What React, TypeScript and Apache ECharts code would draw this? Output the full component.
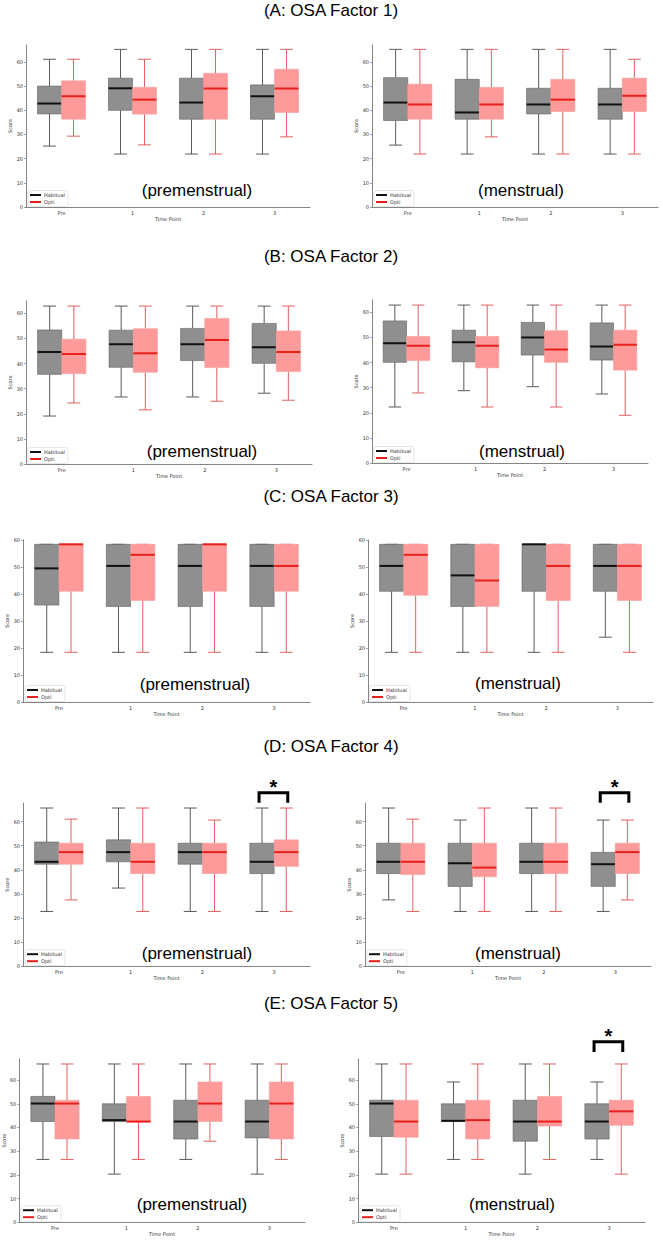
import React, { useEffect, useRef } from 'react';
import * as echarts from 'echarts';

const timePoints = ['Pre', '1', '2', '3'];
const yTickValues = [0, 10, 20, 30, 40, 50, 60];
const seriesNames = ['Habitual', 'Opti'];
const factorTitles = ['(A: OSA Factor 1)', '(B: OSA Factor 2)', '(C: OSA Factor 3)', '(D: OSA Factor 4)', '(E: OSA Factor 5)'];
const phaseLabels = ['(premenstrual)', '(menstrual)'];

// each row: [min, Q1, median, Q3, max] for Pre, 1, 2, 3
const f1PremHabitual = [[25.2, 38.5, 42.8, 50.0, 61.1], [21.9, 40.0, 49.1, 53.3, 65.2], [21.9, 36.3, 43.2, 53.3, 65.2], [21.9, 36.3, 45.8, 50.5, 65.2]];
const f1PremOpti = [[29.3, 36.3, 45.8, 52.2, 61.1], [25.7, 38.4, 44.4, 49.5, 61.1], [21.9, 36.3, 49.0, 55.3, 65.2], [29.0, 39.1, 49.0, 57.0, 65.2]];
const f1MensHabitual = [[25.6, 35.8, 43.2, 53.5, 65.2], [21.9, 36.3, 39.1, 52.8, 65.2], [21.9, 38.5, 42.4, 49.1, 65.2], [21.9, 36.3, 42.4, 49.1, 65.2]];
const f1MensOpti = [[21.9, 36.3, 42.4, 50.8, 65.2], [29.0, 36.3, 42.4, 49.5, 65.2], [21.9, 39.5, 44.4, 52.8, 65.2], [21.9, 39.5, 46.0, 53.3, 61.1]];

const f2PremHabitual = [[19.1, 35.7, 44.6, 53.4, 62.9], [26.7, 38.5, 47.7, 53.3, 62.9], [26.7, 41.2, 47.7, 54.0, 62.9], [28.2, 40.1, 46.5, 56.0, 62.9]];
const f2PremOpti = [[24.3, 36.0, 43.8, 49.7, 62.9], [21.6, 36.5, 44.1, 53.9, 62.9], [25.0, 38.4, 49.4, 58.0, 62.9], [25.4, 36.8, 44.6, 53.0, 62.9]];
const f2MensHabitual = [[22.3, 40.1, 47.7, 56.6, 62.9], [28.8, 40.3, 48.1, 52.9, 62.9], [30.4, 43.0, 50.0, 56.0, 62.9], [27.5, 41.0, 46.4, 55.8, 62.9]];
const f2MensOpti = [[27.9, 40.8, 46.7, 50.4, 62.9], [22.3, 37.9, 46.7, 50.4, 62.9], [22.3, 40.1, 45.2, 52.7, 62.9], [19.0, 37.0, 47.1, 52.9, 62.9]];

const f3PremHabitual = [[18.4, 35.9, 49.5, 58.4, 58.4], [18.4, 35.4, 50.4, 58.4, 58.4], [18.4, 35.4, 50.4, 58.4, 58.4], [18.4, 35.4, 50.4, 58.4, 58.4]];
const f3PremOpti = [[18.4, 41.0, 58.4, 58.4, 58.4], [18.4, 37.6, 54.5, 58.4, 58.4], [18.4, 41.0, 58.4, 58.4, 58.4], [18.4, 41.0, 50.4, 58.4, 58.4]];
const f3MensHabitual = [[18.4, 41.0, 50.4, 58.4, 58.4], [18.4, 35.4, 46.9, 58.4, 58.4], [18.4, 41.0, 58.4, 58.4, 58.4], [24.0, 41.0, 50.4, 58.4, 58.4]];
const f3MensOpti = [[18.4, 39.5, 54.5, 58.4, 58.4], [18.4, 35.4, 45.0, 58.4, 58.4], [18.4, 37.6, 50.4, 58.4, 58.4], [18.4, 37.6, 50.4, 58.4, 58.4]];

const f4PremHabitual = [[22.7, 42.3, 43.3, 51.5, 65.6], [32.4, 43.3, 47.3, 52.4, 65.6], [22.7, 42.3, 47.3, 51.0, 65.6], [22.7, 38.4, 43.3, 51.0, 65.6]];
const f4PremOpti = [[27.5, 42.3, 47.3, 51.0, 61.0], [22.7, 38.4, 43.3, 51.0, 65.6], [22.7, 38.4, 47.3, 51.0, 60.6], [22.7, 41.4, 47.3, 52.4, 65.6]];
const f4MensHabitual = [[27.5, 38.4, 43.3, 51.0, 65.6], [22.7, 33.1, 42.7, 51.0, 60.6], [22.7, 38.4, 43.3, 51.0, 65.6], [22.7, 33.1, 42.3, 47.2, 60.6]];
const f4MensOpti = [[22.7, 38.0, 43.3, 51.0, 61.0], [22.7, 37.1, 40.9, 51.0, 65.6], [22.7, 38.4, 43.3, 51.0, 65.6], [27.5, 38.4, 47.3, 51.0, 60.6]];

const f5PremHabitual = [[26.5, 42.5, 50.1, 53.1, 66.8], [20.3, 42.5, 43.1, 50.0, 66.8], [26.5, 35.1, 42.5, 51.5, 66.8], [20.3, 35.6, 42.5, 51.5, 66.8]];
const f5PremOpti = [[26.5, 35.1, 50.1, 51.5, 66.8], [26.5, 42.3, 42.5, 53.1, 66.8], [34.2, 42.5, 50.1, 59.2, 66.8], [26.5, 35.1, 50.1, 59.2, 66.8]];
const f5MensHabitual = [[20.3, 36.2, 50.1, 51.5, 66.8], [26.5, 42.5, 42.8, 50.0, 59.2], [20.3, 34.2, 42.5, 51.5, 66.8], [26.5, 35.1, 42.5, 50.0, 59.2]];
const f5MensOpti = [[20.3, 35.9, 42.5, 51.5, 66.8], [26.5, 35.1, 43.1, 51.5, 66.8], [26.5, 40.6, 42.5, 53.1, 66.8], [20.3, 40.9, 46.8, 51.5, 66.8]];

// panel order: A prem, A mens, B prem, B mens, ...
const panelData = [
  [f1PremHabitual, f1PremOpti], [f1MensHabitual, f1MensOpti],
  [f2PremHabitual, f2PremOpti], [f2MensHabitual, f2MensOpti],
  [f3PremHabitual, f3PremOpti], [f3MensHabitual, f3MensOpti],
  [f4PremHabitual, f4PremOpti], [f4MensHabitual, f4MensOpti],
  [f5PremHabitual, f5PremOpti], [f5MensHabitual, f5MensOpti],
];
const panelYMax = [67, 67, 65, 65, 60, 60, 67.6, 67.6, 68.9, 68.9];

// significance brackets: [panel, time point index, top value, leg value]
const sigBrackets = [[6, 3, 71.9, 67.8], [7, 3, 71.9, 67.8], [9, 3, 76.2, 71.9]];

// layout (pixels)
const geom = [
  { left: 26, width: 284, top: 45, height: 162 },
  { left: 372, width: 286, top: 45, height: 162 },
  { left: 26, width: 286, top: 300.8, height: 163.2 },
  { left: 372, width: 276, top: 299.8, height: 163.2 },
  { left: 23, width: 287, top: 540, height: 162 },
  { left: 368, width: 285, top: 540, height: 162 },
  { left: 23, width: 287, top: 803.2, height: 163 },
  { left: 365, width: 286, top: 803.2, height: 163 },
  { left: 19, width: 286, top: 1059, height: 163.2 },
  { left: 358, width: 287, top: 1059, height: 163.2 },
];
const titlePos = [10, 256, 496, 746, 1003];
const phasePos = [
  [197, 190], [521, 190], [202, 451], [522, 451], [195, 684],
  [518, 683], [197, 953], [518, 953], [192, 1204], [512, 1204],
];

const W = 663;
const H = 1240;
const SMALL_FONT = 'DejaVu Sans';
const BIG_FONT = 'Liberation Sans';

const styles = [
  { fill: '#8f8f8f', stroke: '#5e5e5e', whisker: '#5a5a5a', median: '#111111' },
  { fill: '#ff9a9a', stroke: '#f2a0a0', whisker: '#e06060', median: '#e8201c' },
];

function makeRender(side: number) {
  const st = styles[side];
  const dir = side === 0 ? -1 : 1;
  return (params: any, api: any) => {
    const cat = api.value(0);
    const vMin = api.value(1);
    const q1 = api.value(2);
    const med = api.value(3);
    const q3 = api.value(4);
    const vMax = api.value(5);
    const band = api.size([1, 0])[0];
    const cx = api.coord([cat, 0])[0] + dir * band * 0.169;
    const half = band * 0.169;
    const cap = band * 0.09;
    const yMin = api.coord([cat, vMin])[1];
    const yQ1 = api.coord([cat, q1])[1];
    const yMed = api.coord([cat, med])[1];
    const yQ3 = api.coord([cat, q3])[1];
    const yMax = api.coord([cat, vMax])[1];
    const wStyle = { stroke: st.whisker, lineWidth: 1 };
    return {
      type: 'group',
      children: [
        { type: 'line', shape: { x1: cx, y1: yQ1, x2: cx, y2: yMin }, style: wStyle },
        { type: 'line', shape: { x1: cx, y1: yQ3, x2: cx, y2: yMax }, style: wStyle },
        { type: 'line', shape: { x1: cx - cap, y1: yMin, x2: cx + cap, y2: yMin }, style: wStyle },
        { type: 'line', shape: { x1: cx - cap, y1: yMax, x2: cx + cap, y2: yMax }, style: wStyle },
        {
          type: 'rect',
          shape: { x: cx - half, y: yQ3, width: half * 2, height: Math.max(yQ1 - yQ3, 0.5) },
          style: { fill: st.fill, stroke: st.stroke, lineWidth: 0.6 },
        },
        { type: 'line', shape: { x1: cx - half, y1: yMed, x2: cx + half, y2: yMed }, style: { stroke: st.median, lineWidth: 2 } },
      ],
    };
  };
}

export default function App() {
  const ref = useRef<HTMLDivElement>(null);
  useEffect(() => {
    if (!ref.current) return;
    const chart = echarts.init(ref.current, undefined, { renderer: 'svg', width: W, height: H });
    const grids: any[] = [];
    const xAxes: any[] = [];
    const yAxes: any[] = [];
    const series: any[] = [];
    const legends: any[] = [];
    geom.forEach((g, i) => {
      grids.push({ left: g.left, top: g.top, width: g.width, height: g.height, containLabel: false });
      xAxes.push({
        type: 'category', gridIndex: i, data: timePoints, boundaryGap: true,
        name: 'Time Point', nameLocation: 'middle', nameGap: 9,
        nameTextStyle: { fontSize: 5, color: '#333', fontFamily: SMALL_FONT },
        axisLine: { lineStyle: { color: '#666', width: 0.8 } },
        axisTick: { alignWithLabel: true, length: 2, lineStyle: { color: '#666', width: 0.6 } },
        axisLabel: { fontSize: 5, color: '#333', margin: 3, fontFamily: SMALL_FONT },
        splitLine: { show: false },
      });
      yAxes.push({
        type: 'value', gridIndex: i, min: 0, max: panelYMax[i],
        name: 'Score', nameLocation: 'middle', nameGap: 12,
        nameTextStyle: { fontSize: 5, color: '#333', fontFamily: SMALL_FONT },
        axisLine: { show: true, lineStyle: { color: '#666', width: 0.8 } },
        axisTick: { show: true, length: 2, customValues: yTickValues, lineStyle: { color: '#666', width: 0.6 } },
        axisLabel: { fontSize: 5, color: '#333', margin: 3, customValues: yTickValues, fontFamily: SMALL_FONT },
        splitLine: { show: false },
      });
      panelData[i].forEach((arr, s) => {
        series.push({
          type: 'custom', name: seriesNames[s], xAxisIndex: i, yAxisIndex: i,
          itemStyle: { color: s === 0 ? '#111111' : '#e8201c' },
          encode: { x: 0, y: [1, 2, 3, 4, 5] },
          clip: false,
          renderItem: makeRender(s),
          data: arr.map((v, k) => [k, ...v]),
        });
      });
      legends.push({
        orient: 'vertical', left: g.left + 2, top: g.top + g.height - 16.5,
        data: seriesNames.map((n) => ({ name: n, icon: 'rect' })),
        itemWidth: 11, itemHeight: 2, itemGap: 2,
        padding: [2, 3, 2, 2],
        borderColor: '#cccccc', borderWidth: 0.5, borderRadius: 2,
        backgroundColor: '#ffffff',
        textStyle: { fontSize: 5, color: '#333', fontFamily: SMALL_FONT, padding: [0, 0, 0, -2] },
        selectedMode: false,
      });
    });

    chart.setOption({
      animation: false,
      backgroundColor: '#ffffff',
      grid: grids,
      xAxis: xAxes,
      yAxis: yAxes,
      legend: legends,
      series,
    });

    const elements: any[] = [];
    factorTitles.forEach((t, i) => {
      elements.push({
        type: 'text', x: 331, y: titlePos[i],
        style: { text: t, fontSize: 17, fontFamily: BIG_FONT, fill: '#000', align: 'center', verticalAlign: 'middle' },
      });
    });
    phasePos.forEach((p, i) => {
      elements.push({
        type: 'text', x: p[0], y: p[1],
        style: { text: phaseLabels[i % 2], fontSize: 17, fontFamily: BIG_FONT, fill: '#000', align: 'center', verticalAlign: 'middle' },
      });
    });
    sigBrackets.forEach(([panel, cat, topV, legV]) => {
      const finder = { xAxisIndex: panel, yAxisIndex: panel };
      const c0 = chart.convertToPixel(finder, [0, topV]) as number[];
      const c1 = chart.convertToPixel(finder, [1, topV]) as number[];
      const band = c1[0] - c0[0];
      const top = chart.convertToPixel(finder, [cat, topV]) as number[];
      const leg = chart.convertToPixel(finder, [cat, legV]) as number[];
      const x1 = top[0] - band * 0.21;
      const x2 = top[0] + band * 0.19;
      elements.push({
        type: 'polyline',
        shape: { points: [[x1, leg[1]], [x1, top[1]], [x2, top[1]], [x2, leg[1]]] },
        style: { stroke: '#000', lineWidth: 3, fill: null, lineJoin: 'miter' },
      });
      elements.push({
        type: 'text', x: (x1 + x2) / 2, y: top[1] - 6,
        style: { text: '*', fontSize: 20, fontWeight: 'bold', fontFamily: BIG_FONT, fill: '#000', align: 'center', verticalAlign: 'middle' },
      });
    });
    chart.setOption({ graphic: { elements } });

    return () => chart.dispose();
  }, []);
  return <div ref={ref} style={{ position: 'absolute', left: 0, top: 0, width: W, height: H, background: '#fff' }} />;
}
